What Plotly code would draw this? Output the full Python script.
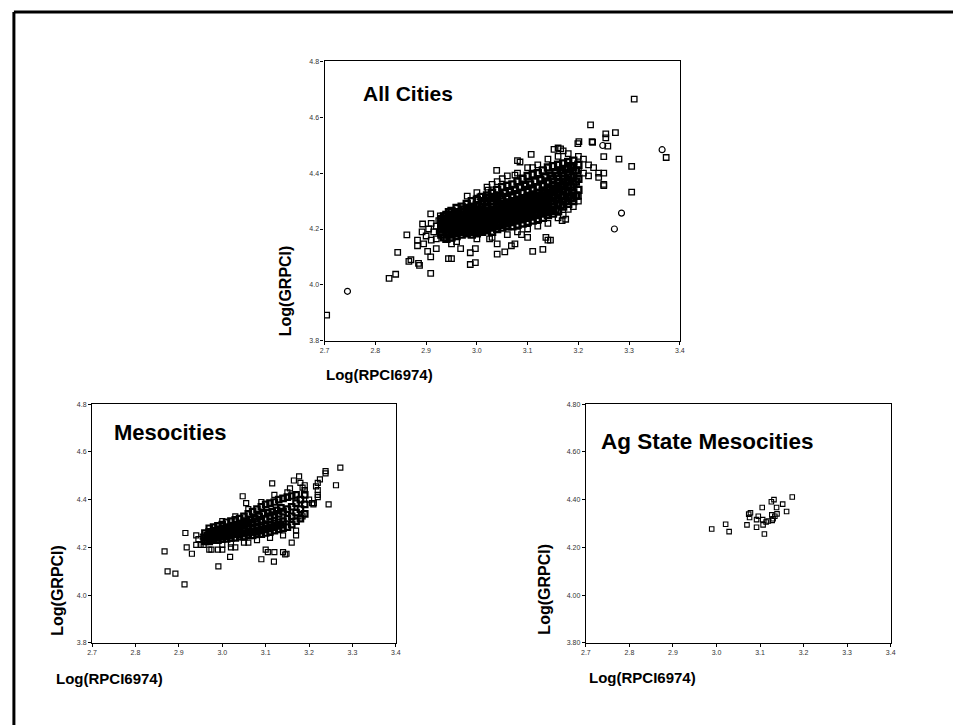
#!/usr/bin/env python3
"""
GRPCI vs RPCI6974 (log-log) scatterplots: all cities, mesocities, ag state mesocities.
Plotly re-draw of the old SPSS panel figure.
"""

import plotly.graph_objects as go

# ---------------------------------------------------------------- data
# All cities: dense core written as (x, [y values]) columns, then sparse points.
ALL_CITIES_CORE = [
    (2.930, [4.18, 4.20, 4.21, 4.22, 4.235, 4.19]),
    (2.935, [4.17, 4.205, 4.225, 4.245]),
    (2.940, [4.165, 4.19, 4.21, 4.23, 4.25, 4.20]),
    (2.945, [4.18, 4.215, 4.24, 4.26]),
    (2.950, [4.17, 4.19, 4.205, 4.22, 4.235, 4.25, 4.265]),
    (2.955, [4.185, 4.21, 4.23, 4.245]),
    (2.960, [4.175, 4.195, 4.21, 4.225, 4.24, 4.26, 4.275]),
    (2.965, [4.19, 4.215, 4.235, 4.25]),
    (2.970, [4.18, 4.20, 4.215, 4.23, 4.245, 4.26, 4.28]),
    (2.975, [4.19, 4.22, 4.24, 4.27]),
    (2.980, [4.185, 4.205, 4.22, 4.235, 4.25, 4.265, 4.29]),
    (2.985, [4.195, 4.225, 4.245, 4.275]),
    (2.990, [4.18, 4.20, 4.215, 4.23, 4.245, 4.26, 4.28, 4.30]),
    (2.995, [4.19, 4.22, 4.25, 4.27]),
    (3.000, [4.185, 4.205, 4.22, 4.235, 4.25, 4.265, 4.285, 4.305]),
    (3.005, [4.195, 4.225, 4.255, 4.28]),
    (3.010, [4.19, 4.21, 4.225, 4.24, 4.255, 4.27, 4.29, 4.315]),
    (3.015, [4.20, 4.235, 4.26, 4.30]),
    (3.020, [4.195, 4.215, 4.23, 4.245, 4.26, 4.275, 4.295, 4.32]),
    (3.025, [4.205, 4.24, 4.265, 4.31]),
    (3.030, [4.19, 4.215, 4.235, 4.25, 4.265, 4.28, 4.30, 4.33]),
    (3.035, [4.21, 4.245, 4.27, 4.315]),
    (3.040, [4.20, 4.22, 4.24, 4.255, 4.27, 4.285, 4.305, 4.34]),
    (3.045, [4.215, 4.25, 4.28, 4.32]),
    (3.050, [4.205, 4.225, 4.245, 4.26, 4.275, 4.29, 4.31, 4.35]),
    (3.055, [4.22, 4.255, 4.285, 4.33]),
    (3.060, [4.21, 4.23, 4.25, 4.265, 4.28, 4.295, 4.315, 4.355]),
    (3.065, [4.225, 4.26, 4.29, 4.335]),
    (3.070, [4.21, 4.235, 4.255, 4.27, 4.285, 4.30, 4.32, 4.36]),
    (3.075, [4.23, 4.265, 4.295, 4.34]),
    (3.080, [4.215, 4.24, 4.26, 4.275, 4.29, 4.305, 4.325, 4.37]),
    (3.085, [4.235, 4.27, 4.30, 4.35]),
    (3.090, [4.22, 4.245, 4.265, 4.28, 4.295, 4.31, 4.33, 4.38]),
    (3.095, [4.24, 4.275, 4.305, 4.355]),
    (3.100, [4.225, 4.25, 4.27, 4.285, 4.30, 4.315, 4.34, 4.39]),
    (3.105, [4.245, 4.28, 4.31, 4.36]),
    (3.110, [4.23, 4.255, 4.275, 4.29, 4.305, 4.32, 4.345, 4.395]),
    (3.115, [4.25, 4.285, 4.315, 4.37]),
    (3.120, [4.235, 4.26, 4.28, 4.295, 4.31, 4.33, 4.35, 4.40]),
    (3.125, [4.255, 4.29, 4.32, 4.375]),
    (3.130, [4.24, 4.265, 4.285, 4.30, 4.32, 4.335, 4.36, 4.41]),
    (3.135, [4.26, 4.295, 4.33, 4.385]),
    (3.140, [4.25, 4.27, 4.29, 4.31, 4.325, 4.345, 4.37, 4.42]),
    (3.145, [4.265, 4.30, 4.34, 4.39]),
    (3.150, [4.255, 4.28, 4.30, 4.315, 4.335, 4.355, 4.38, 4.425]),
    (3.155, [4.27, 4.31, 4.345, 4.40]),
    (3.160, [4.265, 4.29, 4.31, 4.325, 4.345, 4.365, 4.39, 4.43]),
    (3.165, [4.285, 4.32, 4.355, 4.41]),
    (3.170, [4.28, 4.30, 4.32, 4.34, 4.36, 4.38, 4.40, 4.435]),
    (3.175, [4.30, 4.335, 4.37, 4.415]),
    (3.180, [4.29, 4.315, 4.335, 4.355, 4.375, 4.395, 4.42, 4.44]),
    (3.185, [4.31, 4.35, 4.385, 4.425]),
    (3.190, [4.30, 4.33, 4.36, 4.39, 4.42, 4.445]),
    (3.195, [4.32, 4.37, 4.41]),
    (3.200, [4.34, 4.38, 4.43]),
]

ALL_CITIES_SPARSE = [
    (2.704, 3.892), (2.827, 4.023), (2.840, 4.038), (2.844, 4.116),
    (2.862, 4.179), (2.866, 4.084), (2.870, 4.090), (2.885, 4.077),
    (2.887, 4.070), (2.883, 4.140), (2.883, 4.160), (2.895, 4.147),
    (2.892, 4.190), (2.893, 4.218), (2.909, 4.254), (2.909, 4.041),
    (2.903, 4.120), (2.909, 4.100), (2.920, 4.130), (2.920, 4.165),
    (2.928, 4.247), (2.938, 4.247), (2.935, 4.225), (2.930, 4.180),
    (2.944, 4.094), (2.950, 4.094), (2.950, 4.147), (2.960, 4.155),
    (2.968, 4.130), (2.981, 4.318), (2.987, 4.073), (2.997, 4.080),
    (2.987, 4.115), (2.997, 4.130), (3.006, 4.315), (3.022, 4.339),
    (3.025, 4.165), (3.039, 4.410), (3.040, 4.147), (3.040, 4.110),
    (3.050, 4.380), (3.055, 4.118), (3.068, 4.140), (3.075, 4.147),
    (3.080, 4.445), (3.085, 4.440), (3.075, 4.393), (3.088, 4.180),
    (3.100, 4.170), (3.107, 4.467), (3.110, 4.120), (3.130, 4.127),
    (3.136, 4.170), (3.145, 4.160), (3.110, 4.420), (3.152, 4.485),
    (3.165, 4.487), (3.168, 4.230), (3.175, 4.235), (3.190, 4.310),
    (3.200, 4.317), (3.224, 4.573), (3.227, 4.513), (3.201, 4.513),
    (3.250, 4.459), (3.250, 4.360), (3.240, 4.385), (3.310, 4.665),
    (3.254, 4.541), (3.254, 4.526), (3.273, 4.545), (3.199, 4.506),
    (3.228, 4.510), (3.258, 4.497), (3.373, 4.456), (3.280, 4.450),
    (3.305, 4.424), (3.305, 4.332), (3.250, 4.400), (3.250, 4.355),
    (3.240, 4.400), (3.230, 4.420), (3.220, 4.390), (3.198, 4.318),
    (3.170, 4.480), (3.160, 4.490), (3.140, 4.160),
    (2.905, 4.200), (2.910, 4.220), (2.915, 4.190), (2.920, 4.210),
    (2.925, 4.230), (2.900, 4.175), (2.910, 4.160), (3.000, 4.330),
    (3.020, 4.350), (3.040, 4.370), (3.060, 4.390), (3.080, 4.400),
    (3.030, 4.360), (3.100, 4.420), (3.120, 4.430), (3.140, 4.450),
    (3.160, 4.460), (3.180, 4.470), (3.200, 4.460), (3.210, 4.450),
    (3.220, 4.430), (3.200, 4.410), (3.210, 4.400), (3.000, 4.165),
    (3.030, 4.170), (3.060, 4.180), (3.080, 4.190), (3.100, 4.200),
    (3.120, 4.210), (3.140, 4.220), (3.160, 4.240), (3.180, 4.270),
    (3.200, 4.300), (3.170, 4.250), (3.190, 4.280),
]

ALL_CITIES_CIRCLES = [
    (2.745, 3.977), (3.248, 4.499), (3.365, 4.484), (3.285, 4.257), (3.271, 4.200),
]

# Mesocities
MESO_CORE = [
    (2.960, [4.225, 4.24, 4.26]),
    (2.965, [4.23, 4.25]),
    (2.970, [4.225, 4.245, 4.265, 4.28]),
    (2.975, [4.235, 4.255]),
    (2.980, [4.23, 4.245, 4.26, 4.285]),
    (2.985, [4.24, 4.27]),
    (2.990, [4.23, 4.25, 4.265, 4.29]),
    (2.995, [4.245, 4.275]),
    (3.000, [4.235, 4.255, 4.27, 4.295]),
    (3.005, [4.245, 4.28]),
    (3.010, [4.235, 4.255, 4.275, 4.305]),
    (3.015, [4.25, 4.285]),
    (3.020, [4.24, 4.26, 4.28, 4.31]),
    (3.025, [4.255, 4.29]),
    (3.030, [4.24, 4.26, 4.285, 4.315]),
    (3.035, [4.255, 4.295]),
    (3.040, [4.245, 4.265, 4.29, 4.32]),
    (3.045, [4.26, 4.30]),
    (3.050, [4.245, 4.27, 4.295, 4.33]),
    (3.055, [4.26, 4.31]),
    (3.060, [4.25, 4.275, 4.30, 4.34]),
    (3.065, [4.265, 4.315]),
    (3.070, [4.25, 4.275, 4.305, 4.35]),
    (3.075, [4.265, 4.32]),
    (3.080, [4.255, 4.28, 4.31, 4.36]),
    (3.085, [4.27, 4.33]),
    (3.090, [4.255, 4.285, 4.315, 4.37]),
    (3.095, [4.275, 4.34]),
    (3.100, [4.26, 4.29, 4.32, 4.38]),
    (3.105, [4.28, 4.345]),
    (3.110, [4.265, 4.295, 4.33, 4.385]),
    (3.115, [4.285, 4.35]),
    (3.120, [4.27, 4.30, 4.335, 4.39]),
    (3.125, [4.29, 4.355]),
    (3.130, [4.275, 4.305, 4.34, 4.40]),
    (3.135, [4.295, 4.365]),
    (3.140, [4.28, 4.31, 4.35, 4.405]),
    (3.150, [4.285, 4.32, 4.36, 4.41]),
    (3.160, [4.295, 4.33, 4.37, 4.415]),
    (3.170, [4.31, 4.345, 4.385, 4.42]),
    (3.180, [4.32, 4.36, 4.40]),
    (3.190, [4.34, 4.38, 4.42]),
]

MESO_SPARSE = [
    (2.867, 4.183), (2.874, 4.099), (2.892, 4.090), (2.913, 4.045),
    (2.915, 4.260), (2.918, 4.200), (2.930, 4.173), (2.940, 4.210),
    (2.940, 4.250), (2.960, 4.230), (2.957, 4.210), (2.970, 4.190),
    (2.975, 4.190), (2.991, 4.120), (2.990, 4.190), (3.000, 4.190),
    (3.018, 4.160), (3.020, 4.200), (3.030, 4.200), (3.047, 4.414),
    (3.055, 4.385), (3.060, 4.220), (3.090, 4.150), (3.100, 4.190),
    (3.105, 4.180), (3.115, 4.468), (3.119, 4.140), (3.120, 4.180),
    (3.140, 4.180), (3.145, 4.170), (3.156, 4.447), (3.165, 4.480),
    (3.177, 4.497), (3.180, 4.470), (3.190, 4.460), (3.190, 4.440),
    (3.207, 4.385), (3.216, 4.455), (3.220, 4.470), (3.220, 4.440),
    (3.220, 4.420), (3.238, 4.510), (3.245, 4.380), (3.262, 4.460),
    (3.272, 4.534), (3.225, 4.485), (3.238, 4.519), (3.211, 4.385),
    (3.220, 4.410), (3.185, 4.450), (3.148, 4.173), (3.160, 4.220),
    (3.170, 4.250), (3.185, 4.330), (2.950, 4.210), (2.945, 4.235),
    (2.955, 4.245), (3.000, 4.210), (3.020, 4.215), (3.050, 4.220),
    (3.080, 4.230), (3.110, 4.240), (3.140, 4.250), (3.170, 4.270),
    (3.060, 4.360), (3.090, 4.390), (3.120, 4.420), (3.150, 4.430),
    (3.190, 4.440), (3.200, 4.400), (3.210, 4.380), (3.030, 4.330),
    (3.000, 4.310),
]

# Ag state mesocities
AG_POINTS = [
    (2.989, 4.277), (3.021, 4.297), (3.029, 4.266), (3.070, 4.294),
    (3.074, 4.339), (3.076, 4.325), (3.078, 4.345), (3.092, 4.284),
    (3.092, 4.316), (3.096, 4.330), (3.105, 4.367), (3.106, 4.316),
    (3.107, 4.294), (3.110, 4.256), (3.119, 4.310), (3.126, 4.391),
    (3.127, 4.336), (3.130, 4.320), (3.132, 4.400), (3.138, 4.367),
    (3.139, 4.340), (3.134, 4.330), (3.152, 4.381), (3.161, 4.350),
    (3.174, 4.411), (3.128, 4.313), (3.114, 4.306),
]

X_TICKS = [2.7, 2.8, 2.9, 3.0, 3.1, 3.2, 3.3, 3.4]
X_TICK_LABELS = ['2.7', '2.8', '2.9', '3.0', '3.1', '3.2', '3.3', '3.4']
Y_TICKS = [3.8, 4.0, 4.2, 4.4, 4.6, 4.8]
Y_TICK_LABELS = ['3.8', '4.0', '4.2', '4.4', '4.6', '4.8']
Y_TICK_LABELS_AG = ['3.80', '4.00', '4.20', '4.40', '4.60', '4.80']

PANEL_TITLES = ['All Cities', 'Mesocities', 'Ag State Mesocities']
X_TITLE = 'Log(RPCI6974)'
Y_TITLE = 'Log(GRPCI)'

W, H = 958, 728
FONT = 'Liberation Sans, Arial, sans-serif'


def expand(columns):
    xs, ys = [], []
    for x, col in columns:
        for y in col:
            xs.append(x)
            ys.append(y)
    return xs, ys


def unzip(pairs):
    return [p[0] for p in pairs], [p[1] for p in pairs]


def px(x):
    return x / W


def py(y):
    return 1 - y / H


def marker(symbol, size=5, width=1.3):
    return dict(symbol=symbol, size=size, color='black',
                line=dict(width=width, color='black'))


def scatter(xs, ys, axis, mk):
    return go.Scatter(x=xs, y=ys, mode='markers', marker=mk,
                      xaxis='x' + axis, yaxis='y' + axis)


def build_figure():
    fig = go.Figure()

    # panel 1 - all cities (core is so dense the scan shows it solid)
    cx, cy = expand(ALL_CITIES_CORE)
    sx, sy = unzip(ALL_CITIES_SPARSE)
    ox, oy = unzip(ALL_CITIES_CIRCLES)
    fig.add_trace(scatter(cx, cy, '', marker('square-open', 6, 2.4)))
    fig.add_trace(scatter(sx, sy, '', marker('square-open', 5.5, 1.3)))
    fig.add_trace(scatter(ox, oy, '', marker('circle-open', 6, 1.2)))

    # panel 2 - mesocities
    mx, my = expand(MESO_CORE)
    msx, msy = unzip(MESO_SPARSE)
    fig.add_trace(scatter(mx, my, '2', marker('square-open', 5.5, 2.2)))
    fig.add_trace(scatter(msx, msy, '2', marker('square-open', 5, 1.2)))

    # panel 3 - ag state mesocities
    ax_, ay_ = unzip(AG_POINTS)
    fig.add_trace(scatter(ax_, ay_, '3', marker('square-open', 4.5, 1.1)))

    # axis geometry in pixels: (left, right, top, bottom)
    panels = {
        '': (323, 682, 58, 340),
        '2': (88, 395, 404, 645),
        '3': (587, 895, 404, 645),
    }
    common = dict(showline=True, linecolor='black', linewidth=1.3, mirror=True,
                  showgrid=False, zeroline=False, ticks='outside', ticklen=3,
                  tickwidth=1, tickcolor='black',
                  tickfont=dict(size=7, color='#333', family=FONT))
    layout = {}
    for key, (l, r, t, b) in panels.items():
        ytext = Y_TICK_LABELS_AG if key == '3' else Y_TICK_LABELS
        layout['xaxis' + key] = dict(common, domain=[px(l), px(r)], range=[2.7, 3.4],
                                     tickvals=X_TICKS, ticktext=X_TICK_LABELS,
                                     anchor='y' + key)
        layout['yaxis' + key] = dict(common, domain=[py(b), py(t)], range=[3.8, 4.8],
                                     tickvals=Y_TICKS, ticktext=ytext,
                                     anchor='x' + key)
    fig.update_layout(**layout)

    # text: panel titles and axis titles
    title_pos = [(360, 90, 21), (108, 433, 22), (600, 442, 22.5)]
    for text, (x, y, size) in zip(PANEL_TITLES, title_pos):
        fig.add_annotation(text='<b>%s</b>' % text, xref='paper', yref='paper',
                           x=px(x), y=py(y), xanchor='left', yanchor='middle',
                           showarrow=False,
                           font=dict(size=size, color='black', family=FONT))

    for x, y in [(322, 374), (50, 681), (588, 680)]:
        fig.add_annotation(text='<b>%s</b>' % X_TITLE, xref='paper', yref='paper',
                           x=px(x), y=py(y), xanchor='left', yanchor='middle',
                           showarrow=False,
                           font=dict(size=15, color='black', family=FONT))
    for x, y in [(283, 290), (53, 592), (545, 591)]:
        fig.add_annotation(text='<b>%s</b>' % Y_TITLE, xref='paper', yref='paper',
                           x=px(x), y=py(y), xanchor='center', yanchor='middle',
                           textangle=-90, showarrow=False,
                           font=dict(size=16, color='black', family=FONT))

    # outer frame: only the left and top edges fall inside the scan
    frame = dict(type='line', xref='paper', yref='paper',
                 line=dict(color='black', width=3))
    fig.add_shape(frame, x0=px(9), x1=px(9), y0=0, y1=py(8))
    fig.add_shape(frame, x0=px(9), x1=1, y0=py(8), y1=py(8))

    fig.update_layout(
        width=W, height=H,
        margin=dict(l=0, r=0, t=0, b=0),
        paper_bgcolor='white', plot_bgcolor='white',
        showlegend=False, hovermode='closest',
        font=dict(family=FONT),
    )
    return fig


def main():
    fig = build_figure()
    # drop the default page margin so the figure sits at the window origin
    fig.write_html('out.html', config={'displayModeBar': False},
                   post_script="document.body.style.margin='0';"
                               "document.body.style.overflow='hidden';")
    print('Saved: out.html')


if __name__ == '__main__':
    main()
